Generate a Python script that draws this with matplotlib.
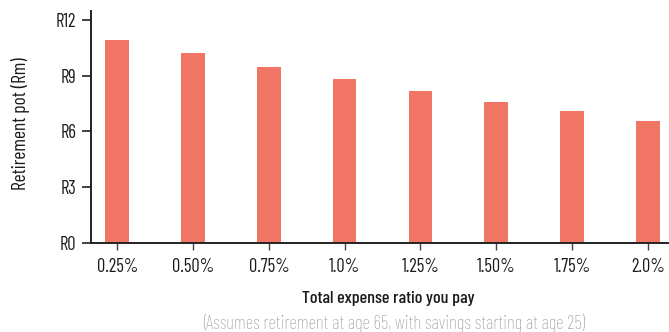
import matplotlib
matplotlib.use("Agg")
import matplotlib.pyplot as plt

categories = ["0.25%", "0.50%", "0.75%", "1.0%", "1.25%", "1.50%", "1.75%", "2.0%"]
values = [10.9, 10.2, 9.48, 8.8, 8.17, 7.6, 7.1, 6.58]
yticks = [0, 3, 6, 9, 12]
ytick_labels = ["R0", "R3", "R6", "R9", "R12"]

plt.rcParams["font.family"] = ["Barlow Condensed", "DejaVu Sans"]

fig = plt.figure(figsize=(6.69, 3.32), dpi=100)
ax = fig.add_axes([90.7 / 669, 89 / 332, 1 - 90.7 / 669, (243 - 11) / 332])
x = list(range(len(categories)))
ax.bar(x, values, width=0.31, color="#F07565")
ax.set_xlim(-0.35, 7.28)
ax.set_ylim(0, 12.48)
ax.set_xticks(x)
ax.set_xticklabels(categories, fontsize=13.3, color="#1a1a1a")
ax.set_yticks(yticks)
ax.set_yticklabels(ytick_labels, fontsize=13.3, color="#1a1a1a")
for s in ["top", "right"]:
    ax.spines[s].set_visible(False)
for s in ["left", "bottom"]:
    ax.spines[s].set_color("#222222")
    ax.spines[s].set_linewidth(1.4)
ax.tick_params(axis="y", length=6.5, width=1.2, color="#222222", pad=4)
ax.tick_params(axis="x", length=5, width=1.0, color="#444444", pad=6)
ax.set_ylabel("Retirement pot (Rm)", fontsize=14, color="#1a1a1a", va="center")
ax.yaxis.set_label_coords(-0.122, 0.515)
ax.set_xlabel("Total expense ratio you pay", fontsize=13, color="#1a1a1a",
              fontweight="medium", va="center")
ax.xaxis.set_label_coords(0.515, -0.241)
fig.text(0.589, 0.027, "(Assumes retirement at age 65, with savings starting at age 25)",
         ha="center", va="center", fontsize=13.5, color="#999999", fontweight="light")
fig.savefig("out.png", dpi=100)
